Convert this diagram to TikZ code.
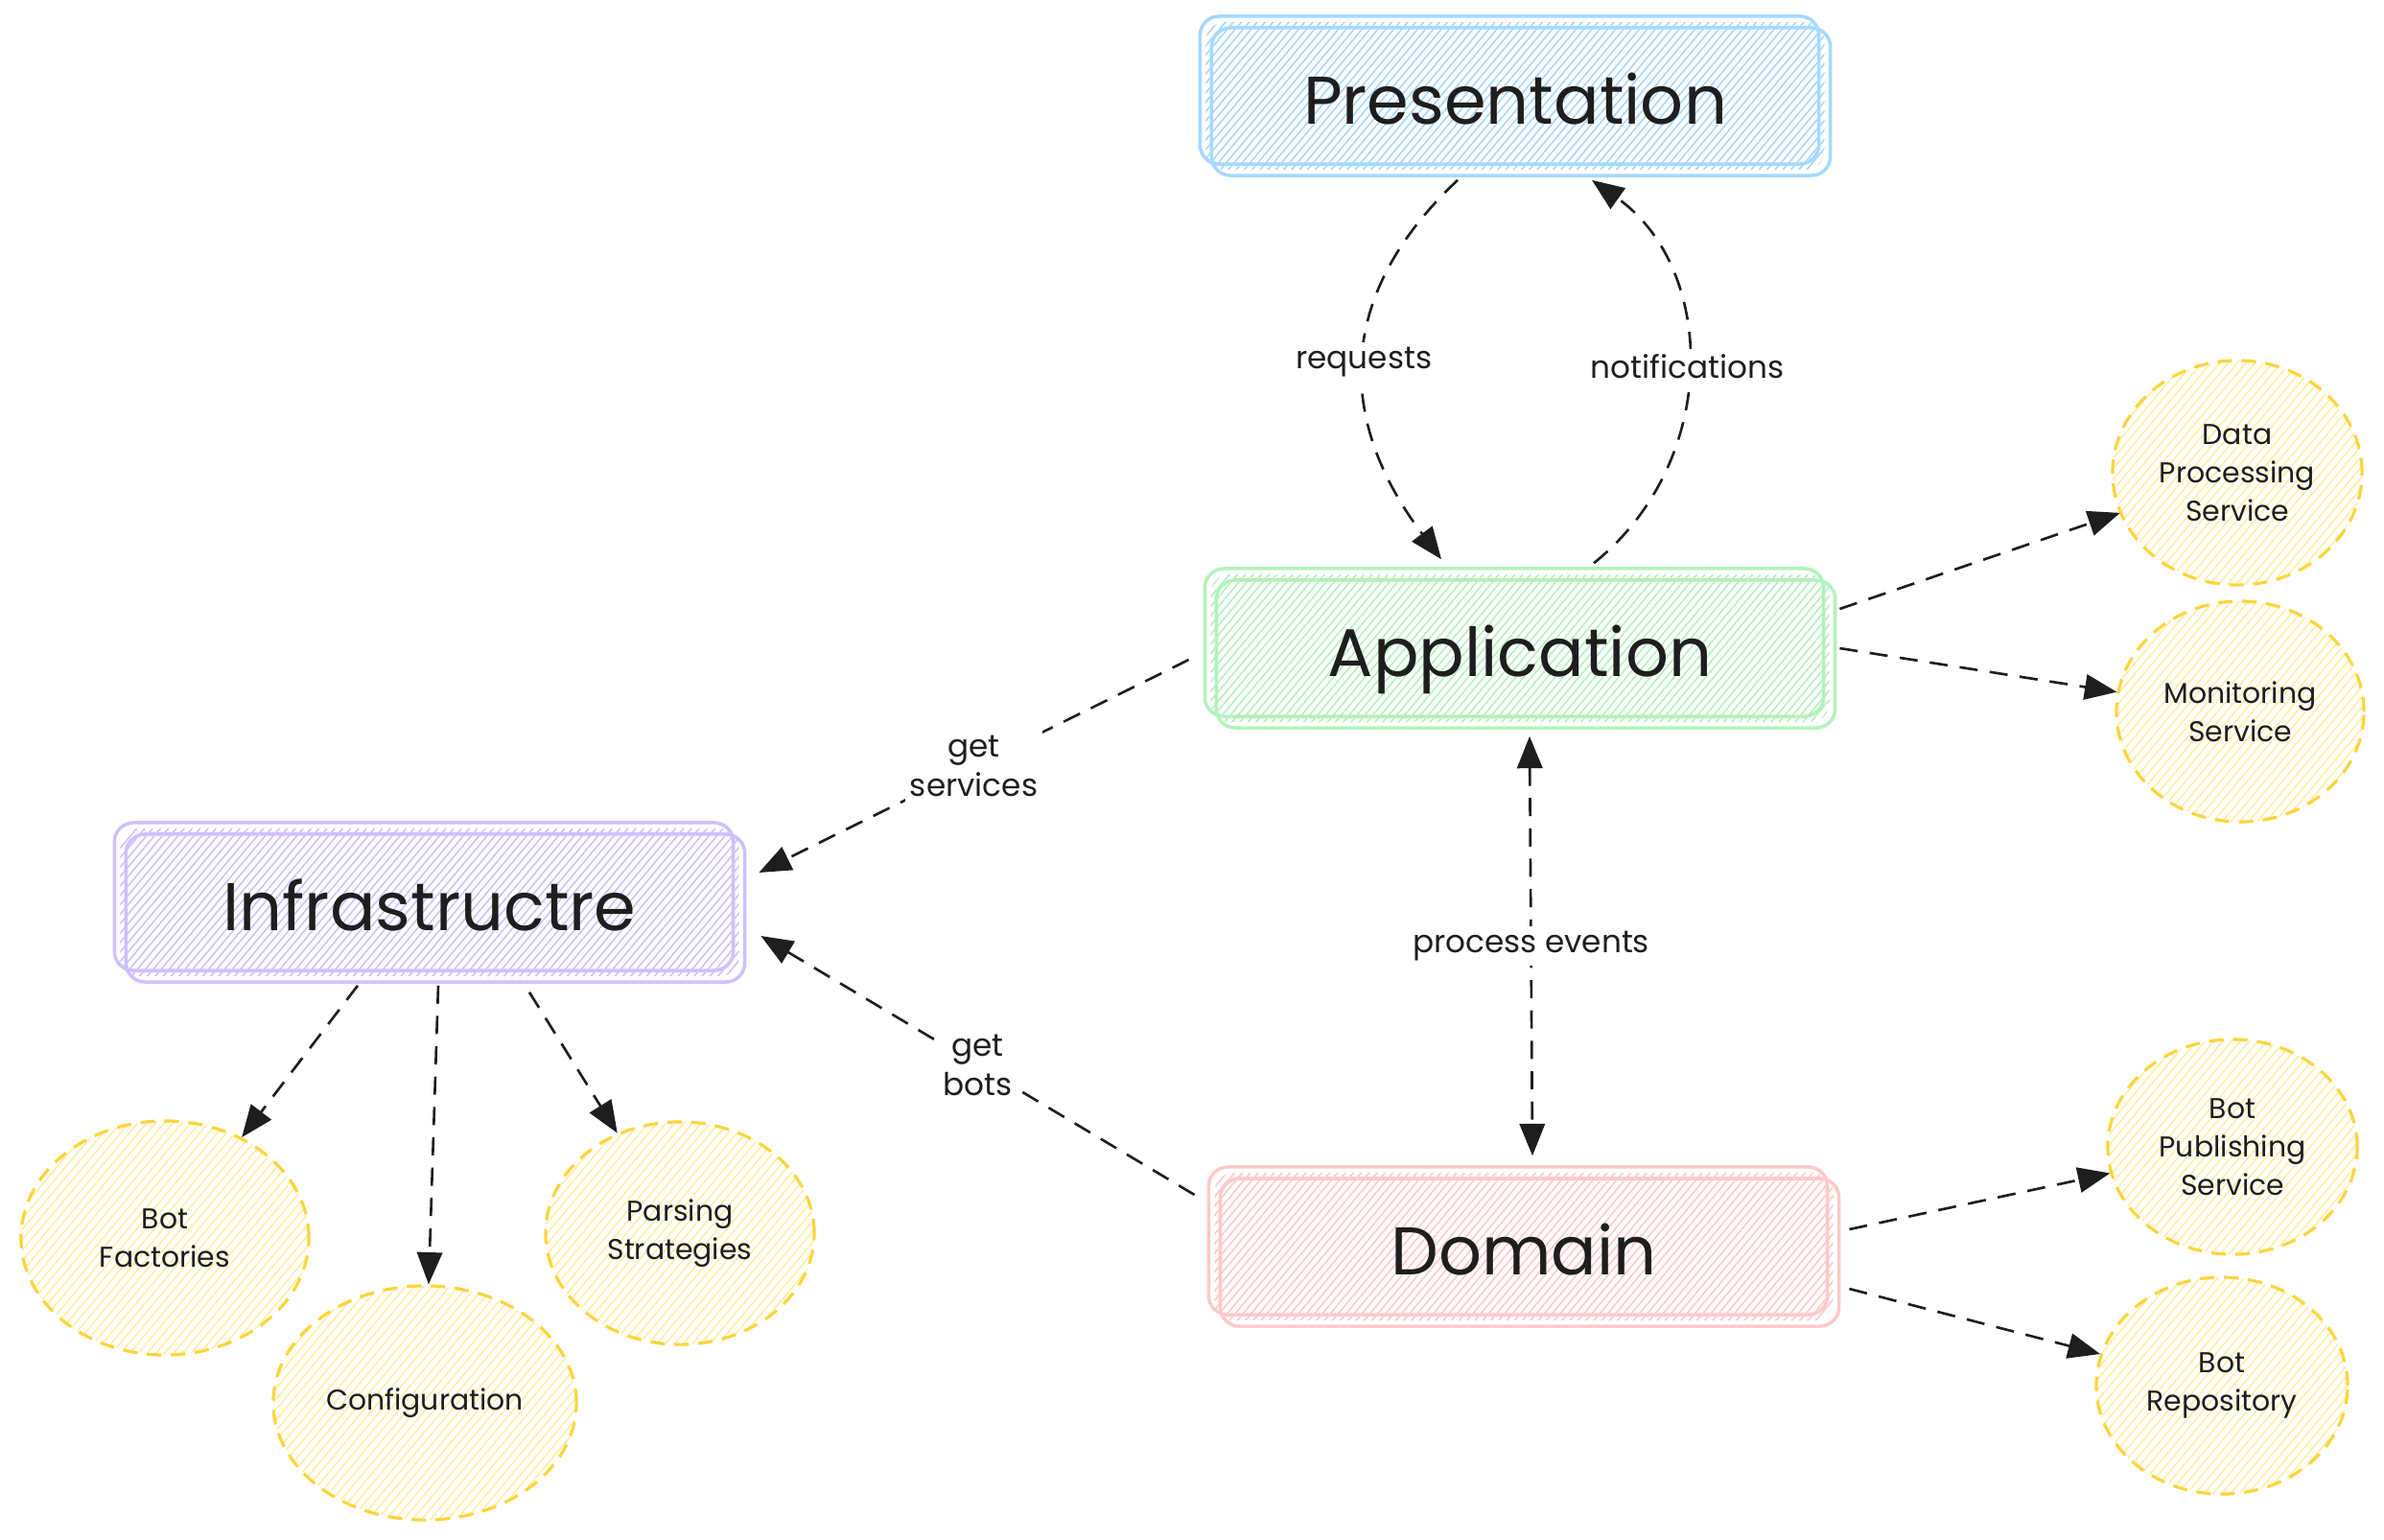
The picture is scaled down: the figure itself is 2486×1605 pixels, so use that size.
\documentclass[tikz,border=0pt]{standalone}
\usepackage{fontspec}
\setmainfont{Poppins}
\usetikzlibrary{arrows.meta,shapes.geometric,patterns.meta}

\definecolor{presblue}{HTML}{A5D8FF}
\definecolor{appgreen}{HTML}{B2F2BB}
\definecolor{infraviolet}{HTML}{D0BFFF}
\definecolor{domred}{HTML}{FFC9C9}
\definecolor{svcline}{HTML}{FFD43B}
\definecolor{svcfill}{HTML}{FFEC99}
\definecolor{ink}{HTML}{1E1E1E}

\begin{document}
\begin{tikzpicture}[x=0.01cm,y=-0.01cm,>={Triangle[length=9.5pt,width=7.5pt]},
	layer/.style={rectangle,rounded corners=0.2cm,draw=none,
		pattern={Lines[angle=50,distance=1.8pt,line width=0.45pt]},pattern color=#1,
		minimum width=6.45cm,minimum height=1.54cm,inner sep=0pt,text=ink,
		text height=16.5pt,text depth=0pt,font=\fontsize{20}{24}\selectfont,
		preaction={draw=#1,line width=1pt,transform canvas={shift={(-0.06cm,0.06cm)}}},
		postaction={draw=#1,line width=1pt,transform canvas={shift={(0.06cm,-0.06cm)}}}},
	svc/.style={ellipse,draw=svcline,line width=0.9pt,dash pattern=on 4.3pt off 2.8pt,
		pattern={Lines[angle=50,distance=2pt,line width=0.4pt]},pattern color=svcfill,
		inner sep=0pt,text=ink,align=center,font=\fontsize{8.5}{11.3}\selectfont},
	lbl/.style={fill=white,text=ink,inner sep=1.5pt,align=center,
		font=\fontsize{9.3}{11.5}\selectfont},
	conn/.style={draw=ink,line width=0.75pt,dash pattern=on 5.4pt off 3.6pt,->},
	biconn/.style={conn,<->}]

	\useasboundingbox (0,0) rectangle (2486,1605);

	\node[layer=presblue]    (pres)  at (1580,100)  {Presentation};
	\node[layer=appgreen]    (app)   at (1585,676)  {Application};
	\node[layer=infraviolet] (infra) at (448,941)   {Infrastructre};
	\node[layer=domred]      (dom)   at (1589,1300) {Domain};

	\node[svc,minimum width=2.6cm,minimum height=2.34cm]  (data_proc) at (2333,493)  {Data\\Processing\\Service};
	\node[svc,minimum width=2.58cm,minimum height=2.3cm]  (monit)     at (2336,742)  {Monitoring\\Service};
	\node[svc,minimum width=2.6cm,minimum height=2.24cm]  (bot_pub)   at (2328,1196) {Bot\\Publishing\\Service};
	\node[svc,minimum width=2.62cm,minimum height=2.26cm] (bot_repo)  at (2317,1445) {Bot\\Repository};
	\node[svc,minimum width=3.0cm,minimum height=2.44cm]  (bot_fact)  at (172,1291)  {Bot\\Factories};
	\node[svc,minimum width=3.16cm,minimum height=2.44cm] (config)    at (443,1463)  {Configuration};
	\node[svc,minimum width=2.8cm,minimum height=2.32cm]  (parsing)   at (709,1286)  {Parsing\\Strategies};

	\draw[conn] ([shift={(-60,10)}]pres.south) .. controls (1390,310) and (1395,440) .. node[lbl] {requests} ([shift={(-82,-15)}]app.north);
	\draw[conn] ([shift={(77,-11)}]app.north) .. controls (1795,480) and (1790,280) .. node[lbl] {notifications} ([shift={(80,10)}]pres.south);

	\draw[conn] ([shift={(-22,12)}]app.west) -- node[lbl] {get\\services} ([shift={(20,-31)}]infra.east);
	\draw[conn] ([shift={(-20,-54)}]dom.west) -- node[lbl] {get\\bots} ([shift={(22,35)}]infra.east);
	\draw[biconn] ([shift={(10,14)}]app.south) -- node[lbl] {process events} ([shift={(9,-17)}]dom.north);

	\draw[conn] ([shift={(10,-41)}]app.east) -- (data_proc);
	\draw[conn] ([shift={(10,0)}]app.east) -- (monit);
	\draw[conn] ([shift={(16,-18)}]dom.east) -- (bot_pub);
	\draw[conn] ([shift={(16,44)}]dom.east) -- (bot_repo);

	\draw[conn] ([shift={(-75,9)}]infra.south) -- (bot_fact);
	\draw[conn] ([shift={(9,9)}]infra.south) -- (config);
	\draw[conn] ([shift={(104,16)}]infra.south) -- (parsing);

\end{tikzpicture}
\end{document}
